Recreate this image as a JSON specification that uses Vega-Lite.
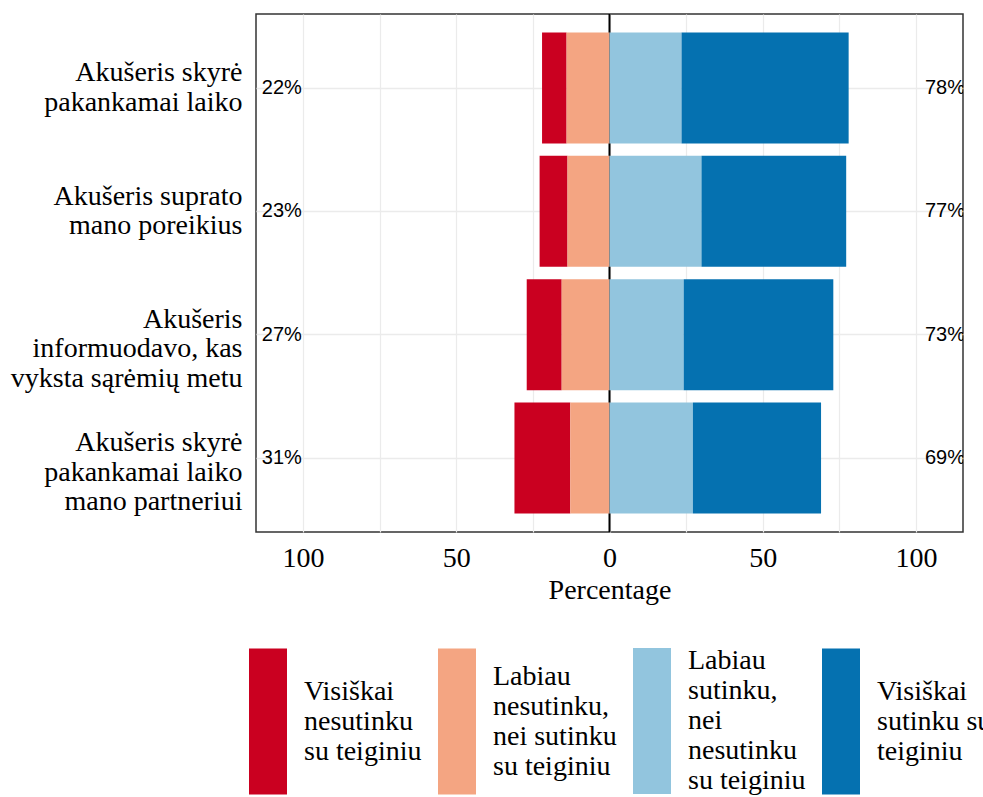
{
  "$schema": "https://vega.github.io/schema/vega-lite/v6.json",
  "width": 707,
  "height": 518,
  "padding": {"left": 10, "top": 13, "right": 0, "bottom": 0},
  "background": "white",
  "config": {
    "view": {"stroke": "#333333", "strokeWidth": 1.5},
    "font": "Liberation Serif",
    "axisY": {
      "labelFont": "Liberation Serif", "labelFontSize": 28, "labelColor": "black",
      "labelLineHeight": 29.5, "labelLimit": 0, "labelOffset": -14.75,
      "ticks": false, "domain": false, "labelPadding": 14,
      "grid": true, "gridColor": "#EBEBEB", "gridWidth": 1.5
    }
  },
  "resolve": {"axis": {"y": "independent"}},
  "datasets": {
    "bars": [
      {"question": "Akušeris skyrė|pakankamai laiko", "response": "Visiškai|nesutinku|su teiginiu", "value": -8.0, "ord": 2},
      {"question": "Akušeris skyrė|pakankamai laiko", "response": "Labiau|nesutinku,|nei sutinku|su teiginiu", "value": -14.0, "ord": 1},
      {"question": "Akušeris skyrė|pakankamai laiko", "response": "Labiau|sutinku,|nei|nesutinku|su teiginiu", "value": 23.5, "ord": 3},
      {"question": "Akušeris skyrė|pakankamai laiko", "response": "Visiškai|sutinku su|teiginiu", "value": 54.5, "ord": 4},
      {"question": "Akušeris suprato|mano poreikius", "response": "Visiškai|nesutinku|su teiginiu", "value": -9.1, "ord": 2},
      {"question": "Akušeris suprato|mano poreikius", "response": "Labiau|nesutinku,|nei sutinku|su teiginiu", "value": -13.7, "ord": 1},
      {"question": "Akušeris suprato|mano poreikius", "response": "Labiau|sutinku,|nei|nesutinku|su teiginiu", "value": 30.0, "ord": 3},
      {"question": "Akušeris suprato|mano poreikius", "response": "Visiškai|sutinku su|teiginiu", "value": 47.2, "ord": 4},
      {"question": "Akušeris|informuodavo, kas|vyksta sąrėmių metu", "response": "Visiškai|nesutinku|su teiginiu", "value": -11.4, "ord": 2},
      {"question": "Akušeris|informuodavo, kas|vyksta sąrėmių metu", "response": "Labiau|nesutinku,|nei sutinku|su teiginiu", "value": -15.6, "ord": 1},
      {"question": "Akušeris|informuodavo, kas|vyksta sąrėmių metu", "response": "Labiau|sutinku,|nei|nesutinku|su teiginiu", "value": 24.2, "ord": 3},
      {"question": "Akušeris|informuodavo, kas|vyksta sąrėmių metu", "response": "Visiškai|sutinku su|teiginiu", "value": 48.8, "ord": 4},
      {"question": "Akušeris skyrė|pakankamai laiko|mano partneriui", "response": "Visiškai|nesutinku|su teiginiu", "value": -18.2, "ord": 2},
      {"question": "Akušeris skyrė|pakankamai laiko|mano partneriui", "response": "Labiau|nesutinku,|nei sutinku|su teiginiu", "value": -12.8, "ord": 1},
      {"question": "Akušeris skyrė|pakankamai laiko|mano partneriui", "response": "Labiau|sutinku,|nei|nesutinku|su teiginiu", "value": 27.2, "ord": 3},
      {"question": "Akušeris skyrė|pakankamai laiko|mano partneriui", "response": "Visiškai|sutinku su|teiginiu", "value": 41.8, "ord": 4}
    ],
    "labels": [
      {"question": "Akušeris skyrė|pakankamai laiko", "pos": -113.4, "txt": "22%"},
      {"question": "Akušeris skyrė|pakankamai laiko", "pos": 102.9, "txt": "78%"},
      {"question": "Akušeris suprato|mano poreikius", "pos": -113.4, "txt": "23%"},
      {"question": "Akušeris suprato|mano poreikius", "pos": 102.9, "txt": "77%"},
      {"question": "Akušeris|informuodavo, kas|vyksta sąrėmių metu", "pos": -113.4, "txt": "27%"},
      {"question": "Akušeris|informuodavo, kas|vyksta sąrėmių metu", "pos": 102.9, "txt": "73%"},
      {"question": "Akušeris skyrė|pakankamai laiko|mano partneriui", "pos": -113.4, "txt": "31%"},
      {"question": "Akušeris skyrė|pakankamai laiko|mano partneriui", "pos": 102.9, "txt": "69%"}
    ],
    "zero": [{"x0": 0}]
  },
  "layer": [
    {
      "data": {"name": "zero"},
      "mark": {"type": "rule", "color": "black", "strokeWidth": 2},
      "encoding": {
        "x": {
          "field": "x0", "type": "quantitative",
          "scale": {"domain": [-115.3, 115.3], "nice": false},
          "axis": {
            "title": "Percentage",
            "values": [-100, -75, -50, -25, 0, 25, 50, 75, 100],
            "labelExpr": "datum.value % 50 == 0 ? format(abs(datum.value), 'd') : ''",
            "labelFont": "Liberation Serif", "labelFontSize": 28, "labelColor": "black",
            "titleFont": "Liberation Serif", "titleFontSize": 28, "titleFontWeight": "normal", "titleColor": "black",
            "ticks": false, "domain": false, "labelFlush": false, "labelOverlap": false,
            "grid": true, "gridColor": "#EBEBEB", "gridWidth": 1.2,
            "labelPadding": 12, "titlePadding": 4
          }
        }
      }
    },
    {
      "data": {"name": "bars"},
      "mark": {"type": "bar"},
      "encoding": {
        "y": {
          "field": "question", "type": "nominal", "sort": null,
          "scale": {"paddingInner": 0.1, "paddingOuter": 0.15},
          "axis": {
            "title": null,
            "labelExpr": "split(datum.label, '|')",
            "bandPosition": 0.5,
            "encode": {"labels": {"update": {"dy": {"signal": "-(length(split(datum.value, '|')) - 2) * 14.75"}}}}
          }
        },
        "x": {
          "field": "value", "type": "quantitative", "stack": "zero",
          "scale": {"domain": [-115.3, 115.3], "nice": false},
          "title": "Percentage"
        },
        "color": {
          "field": "response", "type": "nominal",
          "scale": {
            "domain": ["Visiškai|nesutinku|su teiginiu", "Labiau|nesutinku,|nei sutinku|su teiginiu", "Labiau|sutinku,|nei|nesutinku|su teiginiu", "Visiškai|sutinku su|teiginiu"],
            "range": ["#CA0020", "#F4A582", "#92C5DE", "#0571B0"]
          },
          "legend": {
            "orient": "none", "legendX": -7, "legendY": 688,
            "direction": "horizontal", "columns": 4, "title": null,
            "symbolType": "M-1,-3.84H1V3.84H-1Z", "symbolSize": 1444, "symbolStrokeWidth": 0, "symbolOpacity": 1,
            "labelExpr": "split(datum.label, '|')",
            "labelFont": "Liberation Serif", "labelFontSize": 28, "labelColor": "black",
            "labelLineHeight": 30, "labelLimit": 0, "labelOffset": 17, "columnPadding": 16,
            "encode": {"labels": {"update": {"dy": {"signal": "-(length(split(datum.label, '|')) - 1) * 15"}}}}
          }
        },
        "order": {"field": "ord", "type": "quantitative"}
      }
    },
    {
      "data": {"name": "labels"},
      "mark": {"type": "text", "align": "left", "baseline": "middle", "font": "Liberation Sans", "fontSize": 20, "color": "black", "clip": true},
      "encoding": {
        "y": {"field": "question", "type": "nominal", "sort": null, "axis": null},
        "x": {"field": "pos", "type": "quantitative", "scale": {"domain": [-115.3, 115.3], "nice": false}, "title": "Percentage"},
        "text": {"field": "txt"}
      }
    }
  ]
}
